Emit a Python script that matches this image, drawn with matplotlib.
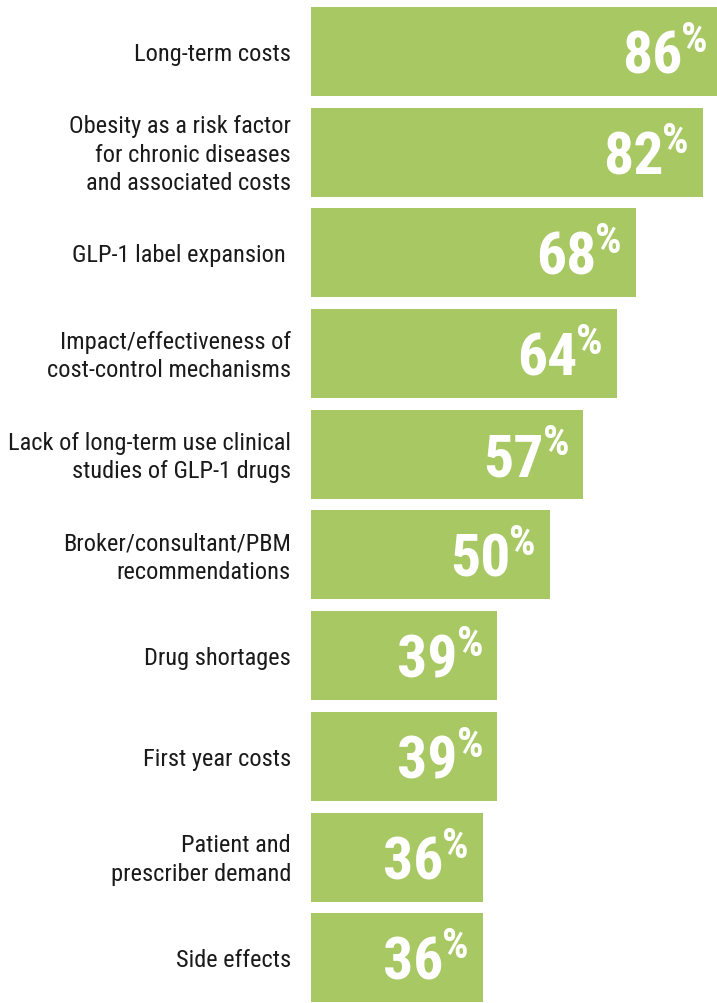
import matplotlib
matplotlib.use("Agg")
import matplotlib.pyplot as plt
from matplotlib import font_manager as fm
from matplotlib.transforms import offset_copy

categories = [
    "Long-term costs",
    "Obesity as a risk factor\nfor chronic diseases\nand associated costs",
    "GLP-1 label expansion ",
    "Impact/effectiveness of\ncost-control mechanisms",
    "Lack of long-term use clinical\nstudies of GLP-1 drugs",
    "Broker/consultant/PBM\nrecommendations",
    "Drug shortages",
    "First year costs",
    "Patient and\nprescriber demand",
    "Side effects",
]
values = [86, 82, 68, 64, 57, 50, 39, 39, 36, 36]

names = {f.name for f in fm.fontManager.ttflist}
cond = None
for cand in ["Roboto Condensed", "Liberation Sans Narrow", "Arial Narrow", "Open Sans Condensed"]:
    if cand in names:
        cond = cand
        break
if cond is None:
    cond = "Roboto"
plt.rcParams['font.family'] = [cond, 'DejaVu Sans']

GREEN = "#a8c864"
W, H = 717, 1004
fig = plt.figure(figsize=(W / 100, H / 100), dpi=100)
ax = fig.add_axes([311 / W, 0, 406 / W, 1])
ax.set_xlim(0, 406 / 4.78)
ax.set_ylim(9.449, -0.521)
ax.axis("off")

y = list(range(len(values)))
ax.barh(y, values, height=0.884, color=GREEN, clip_on=False)

for i, lab in enumerate(categories):
    ax.text(-20 / 4.78, i + 0.02, lab, ha="right", va="center", fontsize=17.6,
            color="#1a1a1a", linespacing=1.3, clip_on=False)

fig.canvas.draw()
r = fig.canvas.get_renderer()
for i, v in enumerate(values):
    xe = min(v, 406 / 4.78 + 1.2)
    tr = offset_copy(ax.transData, fig=fig, x=-14, y=0, units="dots")
    pct = ax.text(xe, i, "%", ha="right", va="center", fontsize=30, color="white",
                  fontweight="bold", transform=tr)
    bb = pct.get_window_extent(r)
    tr2 = offset_copy(ax.transData, fig=fig, x=-14 - bb.width + 1, y=-5, units="dots")
    ax.text(xe, i, str(v), ha="right", va="center", fontsize=43, color="white",
            fontweight="bold", transform=tr2)
    pct.set_transform(offset_copy(ax.transData, fig=fig, x=-14, y=12, units="dots"))

fig.savefig("out.png", dpi=100)
